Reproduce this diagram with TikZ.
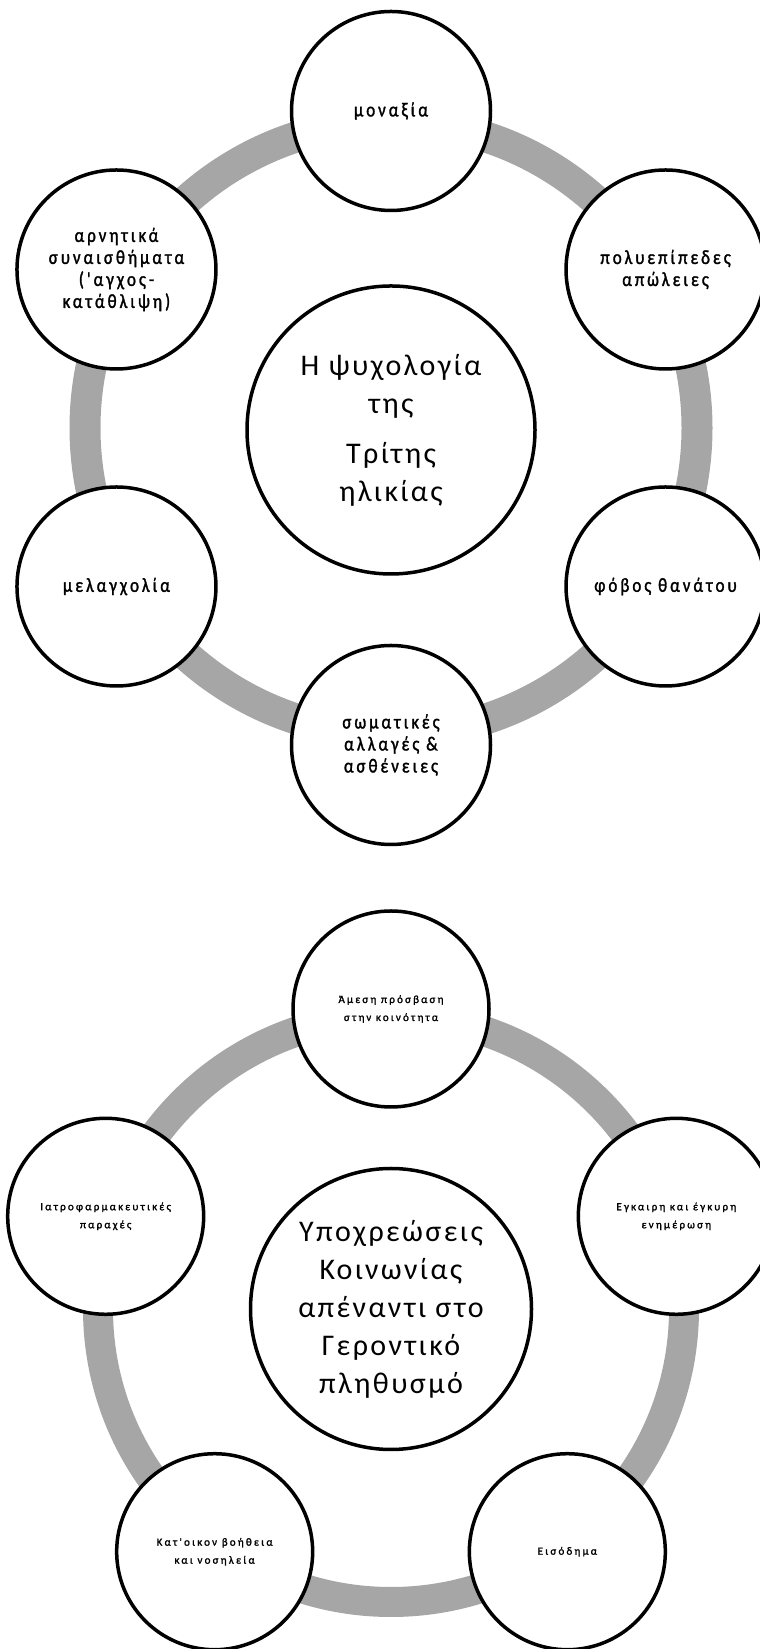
\documentclass[tikz,border=0pt]{standalone}
\usepackage{fontspec}
\setmainfont{Carlito}
\newfontfamily\bubblefont[LetterSpace=15,FakeStretch=0.85,FakeBold=1.5]{Carlito}
\newfontfamily\tinyfont[LetterSpace=20,FakeBold=1.5]{Carlito}
\newfontfamily\hubfont[LetterSpace=8]{Carlito}
\usepackage{tikz}

\definecolor{ringgray}{HTML}{A6A6A6}

\begin{document}
\begin{tikzpicture}[x=1pt,y=1pt,
    bubble/.style={draw,circle,line width=3.5pt,fill=white,align=center,inner sep=0pt},
    smallbubble/.style={bubble,minimum size=199pt,font=\bubblefont\fontsize{20}{22}\selectfont},
    tinybubble/.style={bubble,minimum size=196pt,font=\tinyfont\fontsize{11}{18}\selectfont},
    hub/.style={bubble,font=\hubfont\fontsize{30}{38}\selectfont},
    ring/.style={draw=ringgray,line width=31pt}]
  \useasboundingbox (0,0) rectangle (760,1649);
  \clip (0,0) rectangle (760,1649);

  % upper cycle
  \coordinate (psy) at (391,1221);
  \draw[ring] (psy) circle (306pt);
  \node[hub,minimum size=288pt] (psyhub) at (391,1219)
    {Η ψυχολογία\\της\\[12pt]Τρίτης\\ηλικίας};
  \node[smallbubble] (loneliness) at ([shift={(90:317pt)}]psy) {μοναξία};
  \node[smallbubble] (losses) at ([shift={(30:317pt)}]psy) {πολυεπίπεδες\\απώλειες};
  \node[smallbubble] (fear) at ([shift={(-30:317pt)}]psy) {φόβος θανάτου};
  \node[smallbubble] (body) at ([shift={(-90:317pt)}]psy) {σωματικές\\αλλαγές \&\\ασθένειες};
  \node[smallbubble] (melancholy) at ([shift={(-150:317pt)}]psy) {μελαγχολία};
  \node[smallbubble] (feelings) at ([shift={(150:317pt)}]psy)
    {αρνητικά\\συναισθήματα\\('αγχος-\\κατάθλιψη)};

  % lower cycle
  \coordinate (soc) at (391,340);
  \draw[ring,line width=30pt] (soc) circle (293pt);
  \node[hub,minimum size=281pt] (sochub) at (soc)
    {Υποχρεώσεις\\Κοινωνίας\\απέναντι στο\\Γεροντικό\\πληθυσμό};
  \node[tinybubble] (access) at ([shift={(90:300pt)}]soc) {Άμεση πρόσβαση\\στην κοινότητα};
  \node[tinybubble] (info) at ([shift={(18:300pt)}]soc) {Εγκαιρη και έγκυρη\\ενημέρωση};
  \node[tinybubble] (income) at ([shift={(-54:300pt)}]soc) {Εισόδημα};
  \node[tinybubble] (homecare) at ([shift={(-126:300pt)}]soc) {Κατ'οικον βοήθεια\\και νοσηλεία};
  \node[tinybubble] (medical) at ([shift={(162:300pt)}]soc) {Ιατροφαρμακευτικές\\παραχές};
\end{tikzpicture}
\end{document}
